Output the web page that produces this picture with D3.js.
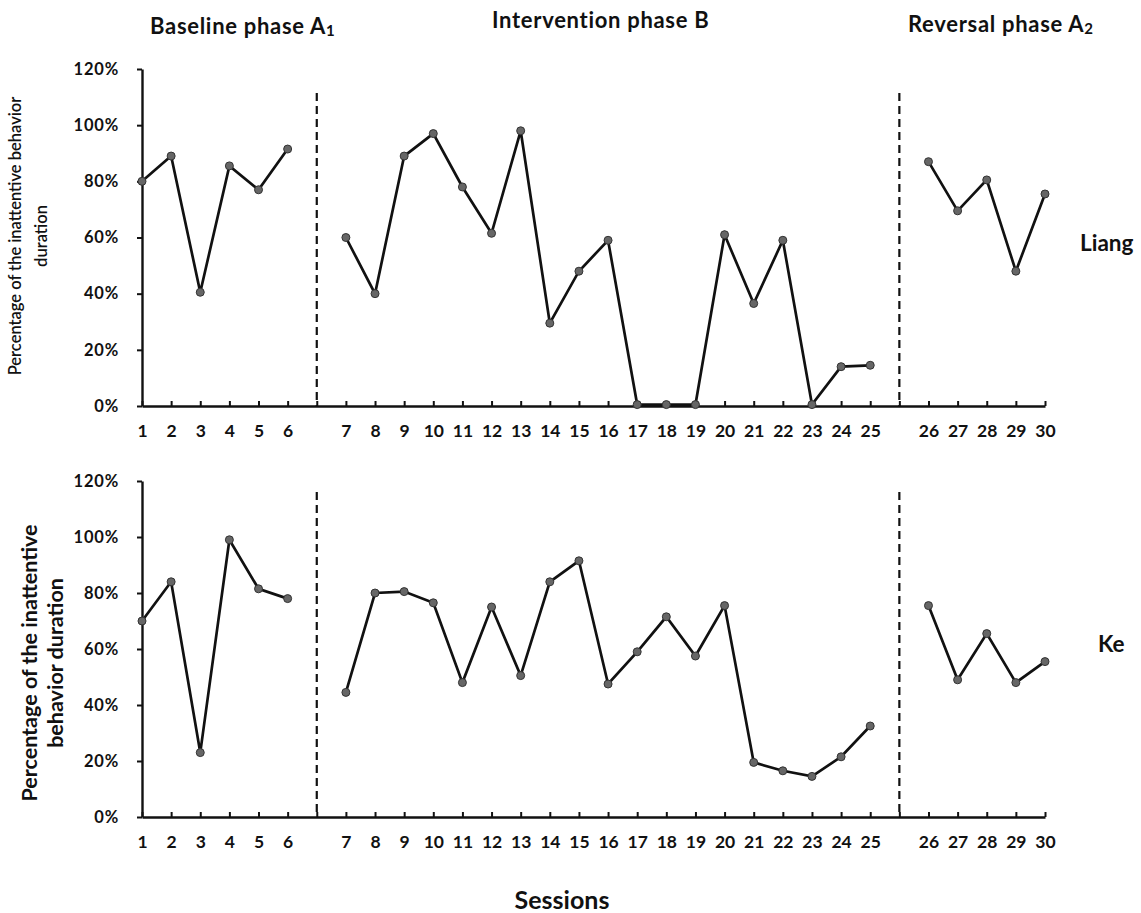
<!DOCTYPE html>
<html>
<head>
<meta charset="utf-8">
<script src="https://cdn.jsdelivr.net/npm/d3@7"></script>
<style>
  html, body { margin: 0; padding: 0; background: #fff; }
  svg { display: block; }
  text { font-family: Lato, "Open Sans", sans-serif; fill: #111; }
</style>
</head>
<body>
<svg id="chart" width="1141" height="913"></svg>
<script>
// ---- data ----
const sessions = [1,2,3,4,5,6,7,8,9,10,11,12,13,14,15,16,17,18,19,20,21,22,23,24,25,26,27,28,29,30];
const phaseOf = ["A1","A1","A1","A1","A1","A1",
  "B","B","B","B","B","B","B","B","B","B","B","B","B","B","B","B","B","B","B",
  "A2","A2","A2","A2","A2"];
const slots = ["1","2","3","4","5","6","gap1","7","8","9","10","11","12","13","14","15","16","17","18","19","20","21","22","23","24","25","gap2","26","27","28","29","30"];
const phaseBreaks = ["gap1","gap2"];
const phaseTitles = ["Baseline phase A", "Intervention phase B", "Reversal phase A"];
const phaseSubs = ["1", "", "2"];
const yTicks = [0,20,40,60,80,100,120];
const liang = [80,89,40.5,85.5,77,91.5, 60,40,89,97,78,61.5,98,29.5,48,59,0.5,0.5,0.5,61,36.5,59,0.5,14,14.5, 87,69.5,80.5,48,75.5];
const ke = [70,84,23,99,81.5,78, 44.5,80,80.5,76.5,48,75,50.5,84,91.5,47.5,59,71.5,57.5,75.5,19.5,16.5,14.5,21.5,32.5, 75.5,49,65.5,48,55.5];
const names = ["Liang","Ke"];
const yLabels = [["Percentage of the inattentive behavior","duration"],["Percentage of the inattentive","behavior duration"]];

// ---- layout ----
const svg = d3.select("#chart");
const x = d3.scalePoint().domain(slots).range([142, 1045]).padding(0);
const panels = [
  {series: liang, name: names[0], labels: yLabels[0], top: 69, bottom: 406, dashTop: 93, labelSize: 16.5, labelWeight: 600, labelX: [15, 41], labelCy: 236, nameY: 242, nameX: 1080},
  {series: ke, name: names[1], labels: yLabels[1], top: 481, bottom: 817, dashTop: 492, labelSize: 21.5, labelWeight: 700, labelX: [29, 55], labelCy: 663, nameY: 643, nameX: 1098}
];
const slotOf = s => String(s);

panels.forEach(p => {
  const y = d3.scaleLinear().domain([0,120]).range([p.bottom, p.top]);
  const g = svg.append("g");

  // y axis
  const ya = g.append("g").attr("transform", `translate(${x(slots[0])},0)`)
    .call(d3.axisLeft(y).tickValues(yTicks).tickFormat(d => d + "%").tickSize(5).tickSizeOuter(0).tickPadding(10));
  ya.select(".domain").attr("stroke", "#111").attr("stroke-width", 2.4);
  ya.selectAll(".tick line").attr("stroke", "#111").attr("stroke-width", 2);
  ya.selectAll(".tick text").style("font-size", "16.5px").style("font-weight", 700)
    .style("letter-spacing", "0.8px").attr("fill", "#111").attr("x", -23);

  // x axis
  const xa = g.append("g").attr("transform", `translate(0,${p.bottom})`)
    .call(d3.axisBottom(x).tickSizeInner(-5).tickSizeOuter(0).tickPadding(19)
      .tickFormat(d => phaseBreaks.includes(d) ? "" : d));
  xa.select(".domain").attr("stroke", "#111").attr("stroke-width", 2.4);
  xa.selectAll(".tick line").attr("stroke", "#111").attr("stroke-width", 2);
  xa.selectAll(".tick text").style("font-size", "17.5px").style("font-weight", 700).attr("fill", "#111");

  // phase change lines
  phaseBreaks.forEach(b => {
    g.append("line")
      .attr("x1", x(b)).attr("x2", x(b))
      .attr("y1", p.dashTop).attr("y2", p.bottom)
      .attr("stroke", "#111").attr("stroke-width", 2.2)
      .attr("stroke-dasharray", "8,5");
  });

  // series per phase
  const pts = sessions.map((s, i) => ({s, v: p.series[i], ph: phaseOf[i]}));
  const groups = d3.groups(pts, d => d.ph);
  const line = d3.line().x(d => x(slotOf(d.s))).y(d => y(d.v));
  groups.forEach(([ph, arr]) => {
    g.append("path").datum(arr).attr("d", line)
      .attr("fill", "none").attr("stroke", "#111").attr("stroke-width", 2.7)
      .attr("stroke-linejoin", "miter");
  });
  g.selectAll("circle.m").data(pts).join("circle").attr("class", "m")
    .attr("cx", d => x(slotOf(d.s))).attr("cy", d => y(d.v)).attr("r", 4)
    .attr("fill", "#666").attr("stroke", "#333").attr("stroke-width", 1);

  // y label
  p.labels.forEach((t, i) => {
    g.append("text")
      .attr("transform", `translate(${p.labelX[i]},${p.labelCy}) rotate(-90)`)
      .attr("text-anchor", "middle").attr("dominant-baseline", "central")
      .style("font-size", p.labelSize + "px").style("font-weight", p.labelWeight)
      .text(t);
  });

  // participant name
  g.append("text").attr("x", p.nameX).attr("y", p.nameY)
    .attr("dominant-baseline", "central")
    .style("font-size", "22.5px").style("font-weight", 700).text(p.name);
});

// phase titles
const titlePos = [{x: 150, y: 34}, {x: 492, y: 28}, {x: 908, y: 32}];
phaseTitles.forEach((t, i) => {
  const tx = svg.append("text").attr("x", titlePos[i].x).attr("y", titlePos[i].y)
    .style("font-size", "22px").style("font-weight", 700).style("letter-spacing", "0.7px").text(t);
  if (phaseSubs[i]) tx.append("tspan").attr("dy", 2).style("font-size", "15px").text(phaseSubs[i]);
});

// x title
svg.append("text").attr("x", 562).attr("y", 909).attr("text-anchor", "middle")
  .style("font-size", "25px").style("font-weight", 700).text("Sessions");
</script>
</body>
</html>
